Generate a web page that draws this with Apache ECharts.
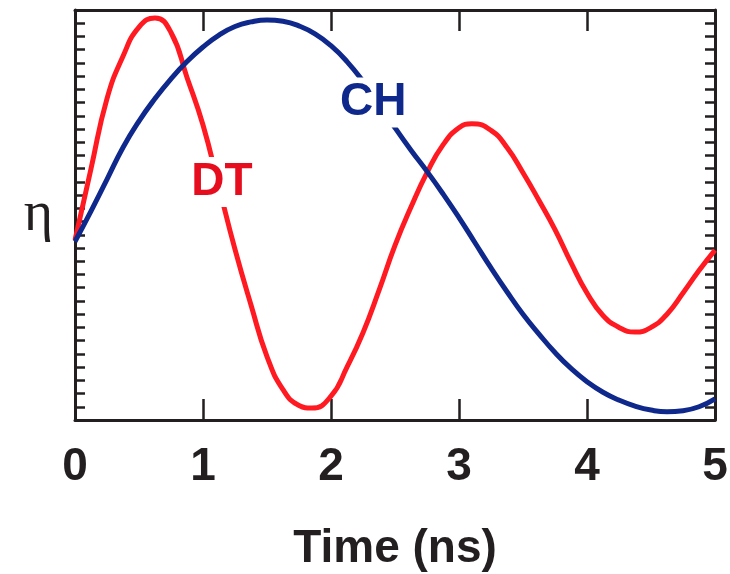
<!DOCTYPE html>
<html>
<head>
<meta charset="utf-8">
<script src="https://cdn.jsdelivr.net/npm/echarts@6/dist/echarts.min.js"></script>
<style>html,body{margin:0;padding:0;background:#fff;}#c{width:730px;height:574px;}</style>
</head>
<body>
<div id="c"></div>
<script>
// ---- data ----
const xTicks = [0, 1, 2, 3, 4, 5];
const dtTime = [0, 0.125, 0.25, 0.375, 0.5, 0.625, 0.75, 0.875, 1.0, 1.125, 1.25, 1.375, 1.5, 1.625, 1.75, 1.85, 2.0, 2.125, 2.25, 2.375, 2.5, 2.625, 2.75, 2.875, 3.0, 3.1, 3.25, 3.375, 3.5, 3.625, 3.75, 3.875, 4.0, 4.125, 4.25, 4.375, 4.5, 4.625, 4.75, 4.875, 5.0];
const dtEta  = [13.6, 19.0, 24.3, 27.5, 29.7, 30.4, 29.3, 25.9, 22.3, 17.6, 12.9, 8.7, 4.8, 2.3, 1.1, 0.9, 1.8, 4.0, 6.6, 9.8, 13.2, 16.1, 18.7, 20.8, 22.1, 22.4, 21.9, 20.6, 18.7, 16.6, 14.4, 11.9, 9.6, 7.9, 7.0, 6.65, 7.0, 8.0, 9.6, 11.3, 12.85];
const chTime = [0, 0.125, 0.25, 0.375, 0.5, 0.625, 0.75, 0.875, 1.0, 1.125, 1.25, 1.375, 1.5, 1.625, 1.75, 1.875, 2.0, 2.125, 2.25, 2.375, 2.5, 2.625, 2.75, 2.875, 3.0, 3.125, 3.25, 3.375, 3.5, 3.625, 3.75, 3.875, 4.0, 4.125, 4.25, 4.375, 4.5, 4.625, 4.75, 4.875, 5.0];
const chEta  = [13.5, 15.8, 18.2, 20.6, 22.6, 24.3, 25.8, 27.1, 28.2, 29.1, 29.75, 30.1, 30.25, 30.15, 29.8, 29.2, 28.3, 27.1, 25.6, 23.9, 22.1, 20.4, 18.8, 17.1, 15.3, 13.4, 11.5, 9.7, 8.0, 6.5, 5.1, 3.9, 2.9, 2.1, 1.5, 1.05, 0.75, 0.62, 0.7, 1.0, 1.6];
const seriesNames = ['DT', 'CH'];

// annotation anchors (data units)
const dtLabelAt = [1.148, 18.0];
const chLabelAt = [2.33, 24.0];

const pairs = (xs, ys) => xs.map((x, i) => [x, ys[i]]);
const axisColor = '#231f20';
const font = "'Liberation Sans', Arial, Helvetica, sans-serif";

const chart = echarts.init(document.getElementById('c'));
const commonY = {
  type: 'value', min: 0, max: 31, interval: 1,
  axisLine: { show: true, onZero: false, lineStyle: { color: axisColor, width: 3 } },
  axisTick: { show: true, inside: true, length: 10, lineStyle: { color: axisColor, width: 2.5 } },
  axisLabel: { show: false }, splitLine: { show: false }
};
const commonX = {
  type: 'value', min: 0, max: 5, interval: 1,
  axisLine: { show: true, onZero: false, lineStyle: { color: axisColor, width: 3 } },
  axisTick: { show: true, inside: true, length: 21, lineStyle: { color: axisColor, width: 2.5 } },
  splitLine: { show: false }
};
chart.setOption({
  animation: false,
  backgroundColor: '#ffffff',
  grid: { left: 75, right: 15, top: 10, bottom: 154, containLabel: false, outerBoundsMode: 'none' },
  xAxis: [
    Object.assign({}, commonX, {
      position: 'bottom',
      axisLabel: { show: true, margin: 24, fontSize: 46, fontWeight: 'bold', fontFamily: font, color: axisColor,
        formatter: v => xTicks.includes(v) ? String(v) : '' },
      name: 'Time (ns)', nameLocation: 'middle', nameGap: 106,
      nameTextStyle: { fontSize: 46, fontWeight: 'bold', fontFamily: font, color: axisColor }
    }),
    Object.assign({}, commonX, { position: 'top', axisLabel: { show: false } })
  ],
  yAxis: [
    Object.assign({}, commonY, {
      position: 'left',
      name: 'η', nameLocation: 'middle', nameRotate: 0, nameGap: 22,
      nameTextStyle: { fontSize: 56, fontFamily: "'Liberation Serif', 'DejaVu Serif', serif", color: axisColor,
        padding: [10, 0, 0, 0] }
    }),
    Object.assign({}, commonY, { position: 'right' })
  ],
  series: [
    {
      name: seriesNames[0], type: 'line', xAxisIndex: 0, yAxisIndex: 0,
      data: pairs(dtTime, dtEta), smooth: 0.5, showSymbol: false, symbol: 'none',
      lineStyle: { color: '#ff1a22', width: 5 },
      markPoint: {
        symbol: 'circle', symbolSize: 0,
        data: [{ coord: dtLabelAt }],
        label: { show: true, position: 'inside', formatter: seriesNames[0], fontSize: 46, fontWeight: 'bold',
          fontFamily: font, color: '#e60d1f', backgroundColor: '#ffffff', padding: [2, 4] }
      }
    },
    {
      name: seriesNames[1], type: 'line', xAxisIndex: 0, yAxisIndex: 0,
      data: pairs(chTime, chEta), smooth: 0.5, showSymbol: false, symbol: 'none',
      lineStyle: { color: '#0f288c', width: 5 },
      markPoint: {
        symbol: 'circle', symbolSize: 0,
        data: [{ coord: chLabelAt }],
        label: { show: true, position: 'inside', formatter: seriesNames[1], fontSize: 46, fontWeight: 'bold',
          fontFamily: font, color: '#0f288c', backgroundColor: '#ffffff', padding: [2, 2] }
      }
    }
  ]
});
</script>
</body>
</html>
